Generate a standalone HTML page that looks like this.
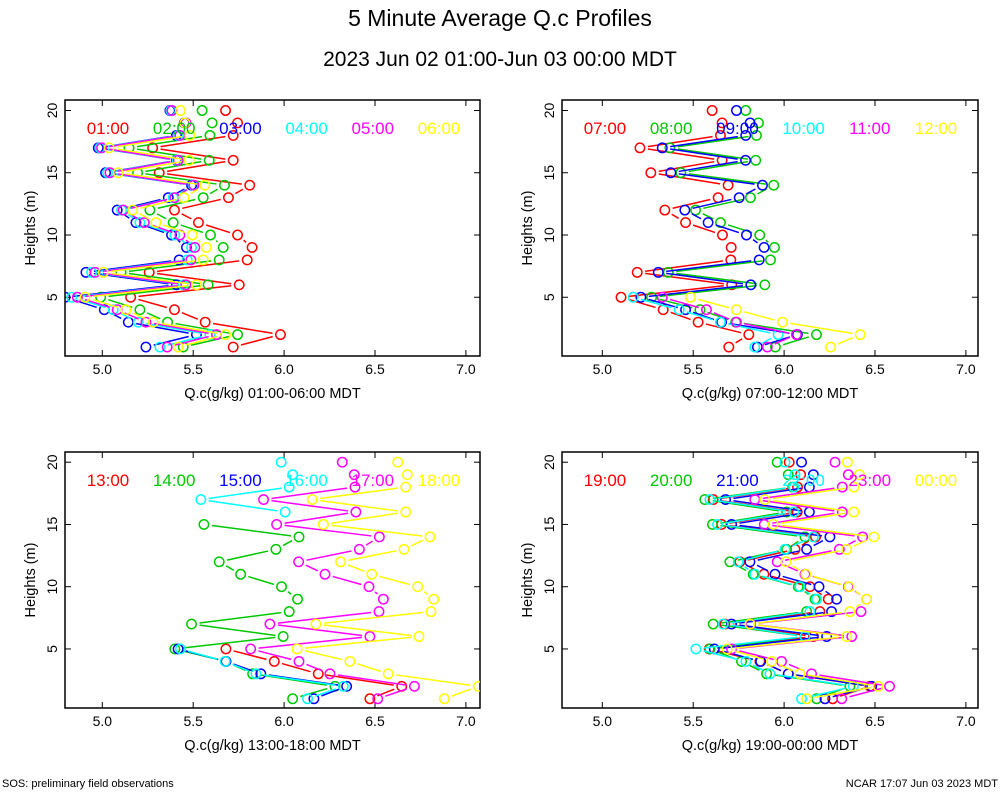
<!DOCTYPE html>
<html><head><meta charset="utf-8"><style>
body{margin:0;background:#fff}
svg text{font-family:"Liberation Sans",sans-serif}
</style></head><body>
<svg id="chart" width="1000" height="800" viewBox="0 0 1000 800" xmlns="http://www.w3.org/2000/svg">
<rect width="1000" height="800" fill="#fff"/>
<text x="500" y="26" font-size="23" text-anchor="middle">5 Minute Average Q.c Profiles</text>
<text x="500" y="66" font-size="21" text-anchor="middle">2023 Jun 02 01:00-Jun 03 00:00 MDT</text>
<text x="2" y="787" font-size="11">SOS: preliminary field observations</text>
<text x="998" y="787" font-size="11" text-anchor="end">NCAR 17:07 Jun 03 2023 MDT</text>
</svg>
<script>
const heights=[20,19,18,17,16,15,14,13,12,11,10,9,8,7,6,5,4,3,2,1];
const xTicks=[5.0,5.5,6.0,6.5,7.0];
const yTicks=[5,10,15,20];
const colors=["#ff0000","#00c800","#0000ff","#00ffff","#ff00ff","#ffff00"];
const N=null;
const p1Labels=["01:00","02:00","03:00","04:00","05:00","06:00"];
const p1Red=[5.678,5.744,5.720,5.277,5.720,5.313,5.811,5.694,5.397,5.529,5.744,5.824,5.797,5.258,5.753,5.156,5.397,5.566,5.980,5.720];
const p1Green=[5.549,5.604,5.592,5.147,5.588,5.194,5.672,5.555,5.262,5.390,5.595,5.665,5.643,5.103,5.582,4.991,5.207,5.359,5.744,5.445];
const p1Blue=[5.372,5.451,5.408,4.978,5.408,5.018,5.491,5.363,5.082,5.185,5.381,5.463,5.423,4.910,5.408,4.795,5.011,5.143,5.518,5.240];
const p1Cyan=[5.377,5.456,5.418,4.987,5.412,5.029,5.500,5.390,5.106,5.207,5.399,5.491,5.467,4.941,5.445,4.832,5.060,5.198,5.592,5.317];
const p1Magenta=[5.383,5.460,5.427,4.996,5.418,5.042,5.504,5.399,5.115,5.231,5.427,5.509,5.487,4.960,5.460,4.863,5.082,5.240,5.628,5.357];
const p1Yellow=[5.430,5.454,5.482,5.038,5.478,5.088,5.564,5.449,5.167,5.295,5.495,5.573,5.555,5.005,5.518,4.905,5.130,5.280,5.678,5.418];
const p2Labels=["07:00","08:00","09:00","10:00","11:00","12:00"];
const p2Red=[5.604,5.659,5.650,5.207,5.659,5.267,5.692,5.637,5.344,5.458,5.661,5.709,5.707,5.192,5.712,5.103,5.335,5.527,5.806,5.696];
const p2Green=[5.789,5.859,5.848,5.372,5.844,5.432,5.943,5.815,5.513,5.650,5.866,5.947,5.925,5.363,5.894,5.271,5.537,5.734,6.178,5.952];
const p2Blue=[5.738,5.813,5.789,5.330,5.788,5.377,5.881,5.753,5.454,5.582,5.793,5.890,5.863,5.308,5.817,5.212,5.458,5.656,6.073,5.853];
const p2Cyan=[N,N,N,N,N,N,N,N,N,N,N,N,N,N,N,5.170,5.423,5.650,5.967,5.839];
const p2Magenta=[N,N,N,N,N,N,N,N,N,N,N,N,N,N,N,5.330,5.573,5.738,6.068,5.908];
const p2Yellow=[N,N,N,N,N,N,N,N,N,N,N,N,N,N,N,5.485,5.738,5.991,6.419,6.256];
const p3Labels=["13:00","14:00","15:00","16:00","17:00","18:00"];
const p3Red=[N,N,N,N,N,N,N,N,N,N,N,N,N,N,N,5.680,5.946,6.188,6.647,6.472];
const p3Green=[N,N,N,N,N,5.559,6.082,5.955,5.643,5.761,5.986,6.074,6.028,5.491,5.995,5.399,5.680,5.827,6.280,6.047];
const p3Blue=[N,N,N,N,N,N,N,N,N,N,N,N,N,N,N,5.417,5.680,5.872,6.344,6.164];
const p3Cyan=[5.984,6.047,6.028,5.542,6.006,N,N,N,N,N,N,N,N,N,N,5.430,5.676,5.845,6.326,6.129];
const p3Magenta=[6.320,6.386,6.390,5.887,6.395,5.959,6.524,6.414,6.080,6.225,6.467,6.546,6.522,5.922,6.472,5.816,6.082,6.252,6.717,6.515];
const p3Yellow=[6.625,6.678,6.669,6.155,6.669,6.216,6.803,6.660,6.311,6.482,6.735,6.823,6.808,6.175,6.742,6.072,6.362,6.573,7.069,6.882];
const p4Labels=["19:00","20:00","21:00","22:00","23:00","00:00"];
const p4Red=[6.028,6.091,6.074,5.610,6.072,5.656,6.173,6.060,5.757,5.889,6.142,6.243,6.197,5.674,6.161,5.588,5.867,6.023,6.472,6.267];
const p4Green=[5.962,6.023,6.047,5.564,6.014,5.606,6.115,6.014,5.702,5.830,6.078,6.170,6.124,5.610,6.115,5.592,5.766,5.904,6.362,6.179];
const p4Blue=[6.096,6.161,6.139,5.678,6.139,5.711,6.252,6.124,5.812,5.950,6.192,6.289,6.261,5.711,6.234,5.616,5.871,6.023,6.482,6.225];
const p4Cyan=[6.005,6.060,6.054,5.592,6.054,5.634,6.161,6.005,5.748,5.839,6.087,6.179,6.142,5.665,6.115,5.515,5.790,5.922,6.381,6.096];
const p4Magenta=[6.280,6.353,6.320,5.839,6.320,5.891,6.432,6.304,5.962,6.115,6.353,6.454,6.423,5.816,6.372,5.711,5.986,6.151,6.580,6.317];
const p4Yellow=[6.348,6.414,6.384,5.894,6.384,5.940,6.494,6.344,6.010,6.120,6.357,6.454,6.362,5.812,6.344,5.687,5.931,6.087,6.518,6.124];

const svg=document.getElementById('chart');
const NS="http://www.w3.org/2000/svg";
function mk(tag,attrs,parent){const e=document.createElementNS(NS,tag);for(const k in attrs)e.setAttribute(k,attrs[k]);(parent||svg).appendChild(e);return e;}

const panels=[
 {L:65,R:480,T:100,B:356,x5:102.3,y0:359.5,labels:p1Labels,series:[p1Red,p1Green,p1Blue,p1Cyan,p1Magenta,p1Yellow],title:"Q.c(g/kg) 01:00-06:00 MDT"},
 {L:562,R:978,T:100,B:356,x5:602.3,y0:359.5,labels:p2Labels,series:[p2Red,p2Green,p2Blue,p2Cyan,p2Magenta,p2Yellow],title:"Q.c(g/kg) 07:00-12:00 MDT"},
 {L:65,R:480,T:452,B:708,x5:102.3,y0:711.2,labels:p3Labels,series:[p3Red,p3Green,p3Blue,p3Cyan,p3Magenta,p3Yellow],title:"Q.c(g/kg) 13:00-18:00 MDT"},
 {L:562,R:978,T:452,B:708,x5:602.3,y0:711.2,labels:p4Labels,series:[p4Red,p4Green,p4Blue,p4Cyan,p4Magenta,p4Yellow],title:"Q.c(g/kg) 19:00-00:00 MDT"}
];
panels.forEach((p,pi)=>{
 const g=mk('g',{});
 
 
 const xs=v=>p.x5+(v-5)*181.8;
 const ys=h=>p.y0-12.45*h;
 const clip=mk('clipPath',{id:'c'+pi},g);
 mk('rect',{x:p.L,y:p.T,width:p.R-p.L,height:p.B-p.T},clip);
 const frame=mk('rect',{x:p.L,y:p.T,width:p.R-p.L,height:p.B-p.T,fill:'none',stroke:'#000','stroke-width':1.5},g);
 
 
 xTicks.forEach(t=>{
  const x=xs(t);
  mk('line',{x1:x,x2:x,y1:p.B,y2:p.B-6,stroke:'#000'},g);
  mk('line',{x1:x,x2:x,y1:p.T,y2:p.T+6,stroke:'#000'},g);
  const tx=mk('text',{x:x,y:p.B+18,'font-size':14,'text-anchor':'middle'},g);
  tx.textContent=t.toFixed(1);
  
  
 });
 yTicks.forEach(t=>{
  const y=ys(t);
  mk('line',{x1:p.L,x2:p.L+6,y1:y,y2:y,stroke:'#000'},g);
  mk('line',{x1:p.R,x2:p.R-6,y1:y,y2:y,stroke:'#000'},g);
  const tx=mk('text',{x:p.L-8,y:y,'font-size':14,'text-anchor':'middle',transform:`rotate(-90 ${p.L-8} ${y})`},g);
  tx.textContent=t;
  
  
 });
 const xt=mk('text',{x:(p.L+p.R)/2,y:p.B+42,'font-size':14.5,'text-anchor':'middle'},g);
 xt.textContent=p.title;
 
 
 const cy=(p.T+p.B)/2, cx=p.L-30;
 const yt=mk('text',{x:cx,y:cy,'font-size':14.5,'text-anchor':'middle',transform:`rotate(-90 ${cx} ${cy})`},g);
 yt.textContent='Heights (m)';
 
 
 const dg=mk('g',{'clip-path':`url(#c${pi})`},g);
 p.series.forEach((vals,si)=>{
  const sg=mk('g',{stroke:colors[si],fill:'none','stroke-width':1.5},dg);
  
  
  for(let i=0;i<vals.length-1;i++){
   const a=vals[i],b=vals[i+1];
   if(a===null||b===null||heights[i]>18)continue;
   const x1=xs(a),y1=ys(heights[i]),x2=xs(b),y2=ys(heights[i+1]);
   const dx=x2-x1,dy=y2-y1,len=Math.hypot(dx,dy),gap=8;
   if(len<=2*gap)continue;
   const ux=dx/len,uy=dy/len;
   const ln=mk('line',{x1:x1+ux*gap,y1:y1+uy*gap,x2:x2-ux*gap,y2:y2-uy*gap},sg);
   
   
  }
  vals.forEach((v,i)=>{
   if(v===null)return;
   const c=mk('circle',{cx:xs(v),cy:ys(heights[i]),r:4.7},sg);
   
   
  });
 });
 p.labels.forEach((lb,si)=>{
  const t=mk('text',{x:p.L+43+si*66.2,y:p.T+34,'font-size':17,'text-anchor':'middle',fill:colors[si]},g);
  t.textContent=lb;
  
  
 });
});
</script>
</body></html>
